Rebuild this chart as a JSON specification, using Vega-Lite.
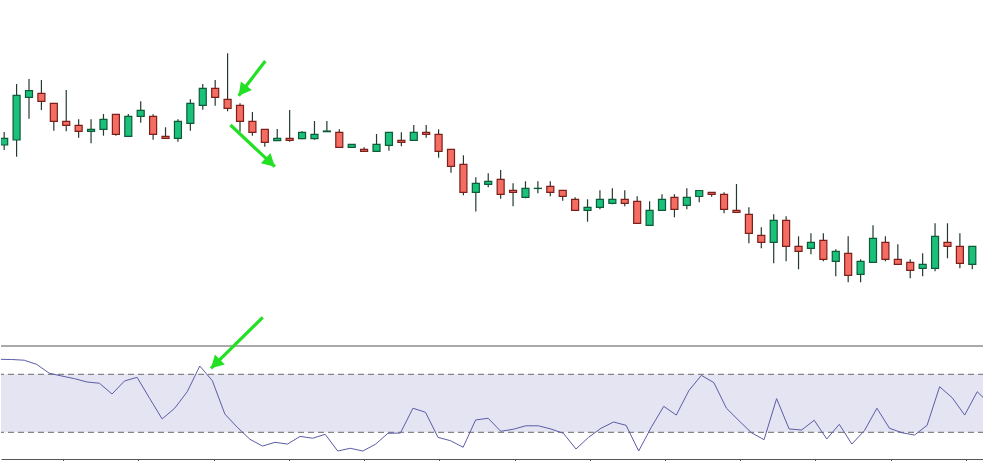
{
  "$schema": "https://vega.github.io/schema/vega-lite/v6.json",
  "padding": 0,
  "spacing": 0,
  "bounds": "flush",
  "background": "white",
  "config": {"view": {"stroke": null}},
  "datasets": {
    "candles": [
      {"i":0,"o":1.12050,"h":1.12180,"l":1.12000,"c":1.12117},
      {"i":1,"o":1.12100,"h":1.12660,"l":1.11933,"c":1.12547},
      {"i":2,"o":1.12527,"h":1.12710,"l":1.12313,"c":1.12593},
      {"i":3,"o":1.12567,"h":1.12700,"l":1.12400,"c":1.12487},
      {"i":4,"o":1.12467,"h":1.12467,"l":1.12193,"c":1.12287},
      {"i":5,"o":1.12287,"h":1.12600,"l":1.12187,"c":1.12247},
      {"i":6,"o":1.12247,"h":1.12307,"l":1.12123,"c":1.12187},
      {"i":7,"o":1.12187,"h":1.12307,"l":1.12067,"c":1.12207},
      {"i":8,"o":1.12207,"h":1.12360,"l":1.12143,"c":1.12307},
      {"i":9,"o":1.12357,"h":1.12357,"l":1.12143,"c":1.12157},
      {"i":10,"o":1.12137,"h":1.12360,"l":1.12137,"c":1.12337},
      {"i":11,"o":1.12337,"h":1.12487,"l":1.12273,"c":1.12397},
      {"i":12,"o":1.12337,"h":1.12357,"l":1.12103,"c":1.12157},
      {"i":13,"o":1.12137,"h":1.12227,"l":1.12117,"c":1.12117},
      {"i":14,"o":1.12117,"h":1.12307,"l":1.12083,"c":1.12287},
      {"i":15,"o":1.12267,"h":1.12507,"l":1.12193,"c":1.12467},
      {"i":16,"o":1.12447,"h":1.12660,"l":1.12403,"c":1.12617},
      {"i":17,"o":1.12617,"h":1.12700,"l":1.12443,"c":1.12527},
      {"i":18,"o":1.12507,"h":1.12967,"l":1.12387,"c":1.12417},
      {"i":19,"o":1.12447,"h":1.12467,"l":1.12183,"c":1.12287},
      {"i":20,"o":1.12287,"h":1.12380,"l":1.12143,"c":1.12177},
      {"i":21,"o":1.12207,"h":1.12207,"l":1.12033,"c":1.12077},
      {"i":22,"o":1.12093,"h":1.12210,"l":1.12093,"c":1.12117},
      {"i":23,"o":1.12117,"h":1.12400,"l":1.12083,"c":1.12097},
      {"i":24,"o":1.12113,"h":1.12187,"l":1.12107,"c":1.12177},
      {"i":25,"o":1.12113,"h":1.12290,"l":1.12103,"c":1.12157},
      {"i":26,"o":1.12183,"h":1.12290,"l":1.12183,"c":1.12190},
      {"i":27,"o":1.12177,"h":1.12207,"l":1.12027,"c":1.12027},
      {"i":28,"o":1.12027,"h":1.12057,"l":1.12027,"c":1.12057},
      {"i":29,"o":1.12007,"h":1.12027,"l":1.11987,"c":1.11987},
      {"i":30,"o":1.11987,"h":1.12160,"l":1.11987,"c":1.12057},
      {"i":31,"o":1.12047,"h":1.12177,"l":1.11993,"c":1.12177},
      {"i":32,"o":1.12097,"h":1.12177,"l":1.12037,"c":1.12077},
      {"i":33,"o":1.12097,"h":1.12250,"l":1.12097,"c":1.12177},
      {"i":34,"o":1.12177,"h":1.12250,"l":1.12123,"c":1.12157},
      {"i":35,"o":1.12157,"h":1.12207,"l":1.11923,"c":1.11987},
      {"i":36,"o":1.12007,"h":1.12007,"l":1.11773,"c":1.11837},
      {"i":37,"o":1.11857,"h":1.11947,"l":1.11547,"c":1.11577},
      {"i":38,"o":1.11577,"h":1.11727,"l":1.11385,"c":1.11667},
      {"i":39,"o":1.11657,"h":1.11767,"l":1.11627,"c":1.11687},
      {"i":40,"o":1.11707,"h":1.11800,"l":1.11513,"c":1.11557},
      {"i":41,"o":1.11597,"h":1.11667,"l":1.11437,"c":1.11577},
      {"i":42,"o":1.11527,"h":1.11687,"l":1.11517,"c":1.11617},
      {"i":43,"o":1.11615,"h":1.11687,"l":1.11567,"c":1.11617},
      {"i":44,"o":1.11637,"h":1.11687,"l":1.11537,"c":1.11577},
      {"i":45,"o":1.11597,"h":1.11597,"l":1.11493,"c":1.11537},
      {"i":46,"o":1.11507,"h":1.11527,"l":1.11397,"c":1.11397},
      {"i":47,"o":1.11397,"h":1.11507,"l":1.11283,"c":1.11427},
      {"i":48,"o":1.11427,"h":1.11597,"l":1.11407,"c":1.11507},
      {"i":49,"o":1.11467,"h":1.11617,"l":1.11457,"c":1.11507},
      {"i":50,"o":1.11507,"h":1.11597,"l":1.11437,"c":1.11467},
      {"i":51,"o":1.11487,"h":1.11537,"l":1.11267,"c":1.11267},
      {"i":52,"o":1.11247,"h":1.11487,"l":1.11247,"c":1.11397},
      {"i":53,"o":1.11397,"h":1.11557,"l":1.11397,"c":1.11507},
      {"i":54,"o":1.11527,"h":1.11557,"l":1.11327,"c":1.11407},
      {"i":55,"o":1.11447,"h":1.11617,"l":1.11407,"c":1.11527},
      {"i":56,"o":1.11535,"h":1.11595,"l":1.11477,"c":1.11595},
      {"i":57,"o":1.11577,"h":1.11577,"l":1.11533,"c":1.11557},
      {"i":58,"o":1.11557,"h":1.11577,"l":1.11367,"c":1.11407},
      {"i":59,"o":1.11397,"h":1.11660,"l":1.11377,"c":1.11377},
      {"i":60,"o":1.11357,"h":1.11427,"l":1.11067,"c":1.11167},
      {"i":61,"o":1.11147,"h":1.11227,"l":1.11017,"c":1.11077},
      {"i":62,"o":1.11077,"h":1.11357,"l":1.10867,"c":1.11297},
      {"i":63,"o":1.11297,"h":1.11337,"l":1.10887,"c":1.11037},
      {"i":64,"o":1.11037,"h":1.11137,"l":1.10807,"c":1.10987},
      {"i":65,"o":1.11017,"h":1.11167,"l":1.10957,"c":1.11077},
      {"i":66,"o":1.11097,"h":1.11167,"l":1.10887,"c":1.10907},
      {"i":67,"o":1.10887,"h":1.11007,"l":1.10737,"c":1.10987},
      {"i":68,"o":1.10967,"h":1.11137,"l":1.10677,"c":1.10747},
      {"i":69,"o":1.10757,"h":1.10907,"l":1.10677,"c":1.10887},
      {"i":70,"o":1.10877,"h":1.11247,"l":1.10877,"c":1.11117},
      {"i":71,"o":1.11077,"h":1.11137,"l":1.10887,"c":1.10907},
      {"i":72,"o":1.10907,"h":1.11057,"l":1.10857,"c":1.10857},
      {"i":73,"o":1.10877,"h":1.10907,"l":1.10717,"c":1.10797},
      {"i":74,"o":1.10817,"h":1.10967,"l":1.10737,"c":1.10857},
      {"i":75,"o":1.10817,"h":1.11267,"l":1.10787,"c":1.11137},
      {"i":76,"o":1.11077,"h":1.11267,"l":1.10917,"c":1.11037},
      {"i":77,"o":1.11037,"h":1.11167,"l":1.10817,"c":1.10867},
      {"i":78,"o":1.10857,"h":1.11037,"l":1.10807,"c":1.11037}
    ],
    "rsi": [
      {"i":0,"v":80.3},{"i":1,"v":80.2},{"i":2,"v":79.7},{"i":3,"v":76.8},{"i":4,"v":70.7},
      {"i":5,"v":68.8},{"i":6,"v":67.0},{"i":7,"v":64.7},{"i":8,"v":63.8},{"i":9,"v":56.4},
      {"i":10,"v":65.4},{"i":11,"v":67.9},{"i":12,"v":53.4},{"i":13,"v":39.2},{"i":14,"v":46.6},
      {"i":15,"v":58.0},{"i":16,"v":75.7},{"i":17,"v":65.6},{"i":18,"v":42.6},{"i":19,"v":33.4},
      {"i":20,"v":25.2},{"i":21,"v":20.5},{"i":22,"v":23.1},{"i":23,"v":21.9},{"i":24,"v":27.2},
      {"i":25,"v":25.9},{"i":26,"v":28.6},{"i":27,"v":17.1},{"i":28,"v":19.0},{"i":29,"v":17.1},
      {"i":30,"v":21.7},{"i":31,"v":29.3},{"i":32,"v":29.5},{"i":33,"v":46.6},{"i":34,"v":43.8},
      {"i":35,"v":26.5},{"i":36,"v":24.2},{"i":37,"v":19.7},{"i":38,"v":38.5},{"i":39,"v":39.7},
      {"i":40,"v":30.7},{"i":41,"v":32.1},{"i":42,"v":34.5},{"i":43,"v":34.5},{"i":44,"v":32.3},
      {"i":45,"v":29.3},{"i":46,"v":18.5},{"i":47,"v":26.5},{"i":48,"v":32.8},{"i":49,"v":37.1},
      {"i":50,"v":34.8},{"i":51,"v":17.1},{"i":52,"v":33.4},{"i":53,"v":47.9},{"i":54,"v":41.9},
      {"i":55,"v":58.7},{"i":56,"v":69.3},{"i":57,"v":64.2},{"i":58,"v":46.6},{"i":59,"v":38.0},
      {"i":60,"v":29.7},{"i":61,"v":24.9},{"i":62,"v":53.2},{"i":63,"v":32.3},{"i":64,"v":31.6},
      {"i":65,"v":38.3},{"i":66,"v":25.4},{"i":67,"v":35.5},{"i":68,"v":21.9},{"i":69,"v":31.1},
      {"i":70,"v":46.6},{"i":71,"v":32.8},{"i":72,"v":29.7},{"i":73,"v":28.1},{"i":74,"v":34.8},
      {"i":75,"v":61.4},{"i":76,"v":53.9},{"i":77,"v":41.9},{"i":78,"v":58.0},{"i":79,"v":49.5}
    ]
  },
  "vconcat": [
    {
      "width": 983,
      "height": 346,
      "layer": [
        {
          "data": {"name": "candles"},
          "mark": {"type": "rule", "clip": true, "color": "#243a2f", "strokeWidth": 1.2},
          "encoding": {
            "x": {"field": "i", "type": "quantitative", "scale": {"domain": [0.147, 78.54], "nice": false, "zero": false}, "axis": null},
            "y": {"field": "l", "type": "quantitative", "scale": {"domain": [1.1004, 1.135], "nice": false, "zero": false}, "axis": null},
            "y2": {"field": "h"}
          }
        },
        {
          "data": {"name": "candles"},
          "mark": {"type": "bar", "clip": true, "width": 7, "strokeWidth": 1.2, "opacity": 1},
          "encoding": {
            "x": {"field": "i", "type": "quantitative", "scale": {"domain": [0.147, 78.54], "nice": false, "zero": false}, "axis": null},
            "y": {"field": "o", "type": "quantitative", "scale": {"domain": [1.1004, 1.135], "nice": false, "zero": false}, "axis": null},
            "y2": {"field": "c"},
            "fill": {"condition": {"test": "datum.c >= datum.o", "value": "#19c17b"}, "value": "#f56c62"},
            "stroke": {"condition": {"test": "datum.c >= datum.o", "value": "#0f5a37"}, "value": "#7a1f19"}
          }
        },
        {
          "data": {"values": [{"ax": 21.04, "ay": 1.1289, "bx": 18.89, "by": 1.12543}, {"ax": 18.23, "ay": 1.1225, "bx": 21.81, "by": 1.11833}]},
          "mark": {"type": "rule", "color": "#22e024", "strokeWidth": 3.2, "strokeCap": "butt"},
          "encoding": {
            "x": {"field": "ax", "type": "quantitative", "scale": {"domain": [0.147, 78.54], "nice": false, "zero": false}, "axis": null},
            "x2": {"field": "bx"},
            "y": {"field": "ay", "type": "quantitative", "scale": {"domain": [1.1004, 1.135], "nice": false, "zero": false}, "axis": null},
            "y2": {"field": "by"}
          }
        },
        {
          "data": {"values": [{"bx": 18.89, "by": 1.12543}]},
          "mark": {"type": "point", "filled": true, "opacity": 1, "color": "#22e024", "strokeWidth": 0, "size": 196, "shape": "M0,0L-1,1.8L1,1.8Z", "angle": 218},
          "encoding": {
            "x": {"field": "bx", "type": "quantitative", "scale": {"domain": [0.147, 78.54], "nice": false, "zero": false}, "axis": null},
            "y": {"field": "by", "type": "quantitative", "scale": {"domain": [1.1004, 1.135], "nice": false, "zero": false}, "axis": null}
          }
        },
        {
          "data": {"values": [{"bx": 21.81, "by": 1.11833}]},
          "mark": {"type": "point", "filled": true, "opacity": 1, "color": "#22e024", "strokeWidth": 0, "size": 196, "shape": "M0,0L-1,1.8L1,1.8Z", "angle": 133},
          "encoding": {
            "x": {"field": "bx", "type": "quantitative", "scale": {"domain": [0.147, 78.54], "nice": false, "zero": false}, "axis": null},
            "y": {"field": "by", "type": "quantitative", "scale": {"domain": [1.1004, 1.135], "nice": false, "zero": false}, "axis": null}
          }
        }
      ]
    },
    {
      "width": 983,
      "height": 113,
      "layer": [
        {
          "data": {"values": [{"top": 70, "bottom": 30}]},
          "mark": {"type": "rect", "color": "#e4e4f2", "opacity": 1},
          "encoding": {
            "y": {"field": "top", "type": "quantitative", "scale": {"domain": [11.6, 89.5], "nice": false, "zero": false}, "axis": null},
            "y2": {"field": "bottom"}
          }
        },
        {
          "data": {"values": [{"lvl": 70}, {"lvl": 30}]},
          "mark": {"type": "rule", "color": "#6a6a6a", "strokeWidth": 1, "strokeDash": [6, 4]},
          "encoding": {
            "y": {"field": "lvl", "type": "quantitative", "scale": {"domain": [11.6, 89.5], "nice": false, "zero": false}, "axis": null}
          }
        },
        {
          "data": {"values": [{"lvl": 89.5}]},
          "mark": {"type": "rule", "color": "#555555", "strokeWidth": 1},
          "encoding": {
            "y": {"field": "lvl", "type": "quantitative", "scale": {"domain": [11.6, 89.5], "nice": false, "zero": false}, "axis": null}
          }
        },
        {
          "data": {"name": "rsi"},
          "mark": {"type": "line", "clip": true, "color": "#5c5ca8", "strokeWidth": 1},
          "encoding": {
            "x": {"field": "i", "type": "quantitative", "scale": {"domain": [0.147, 78.54], "nice": false, "zero": false},
                  "axis": {"values": [5.1, 11.1, 17.1, 23.1, 29.1, 35.1, 41.1, 47.1, 53.1, 59.1, 65.1, 71.1, 77.1], "labels": false, "grid": false, "title": null, "domainColor": "#555555", "tickColor": "#555555", "tickSize": 5, "orient": "bottom"}},
            "y": {"field": "v", "type": "quantitative", "scale": {"domain": [11.6, 89.5], "nice": false, "zero": false}, "axis": null}
          }
        },
        {
          "data": {"values": [{"ax": 21.02, "ay": 109.3, "bx": 16.89, "by": 74.1}]},
          "mark": {"type": "rule", "color": "#22e024", "strokeWidth": 3.2, "strokeCap": "butt"},
          "encoding": {
            "x": {"field": "ax", "type": "quantitative", "scale": {"domain": [0.147, 78.54], "nice": false, "zero": false},
                  "axis": {"values": [5.1, 11.1, 17.1, 23.1, 29.1, 35.1, 41.1, 47.1, 53.1, 59.1, 65.1, 71.1, 77.1], "labels": false, "grid": false, "title": null, "domainColor": "#555555", "tickColor": "#555555", "tickSize": 5, "orient": "bottom"}},
            "x2": {"field": "bx"},
            "y": {"field": "ay", "type": "quantitative", "scale": {"domain": [11.6, 89.5], "nice": false, "zero": false}, "axis": null},
            "y2": {"field": "by"}
          }
        },
        {
          "data": {"values": [{"bx": 16.89, "by": 74.1}]},
          "mark": {"type": "point", "filled": true, "opacity": 1, "color": "#22e024", "strokeWidth": 0, "size": 196, "shape": "M0,0L-1,1.8L1,1.8Z", "angle": 225},
          "encoding": {
            "x": {"field": "bx", "type": "quantitative", "scale": {"domain": [0.147, 78.54], "nice": false, "zero": false},
                  "axis": {"values": [5.1, 11.1, 17.1, 23.1, 29.1, 35.1, 41.1, 47.1, 53.1, 59.1, 65.1, 71.1, 77.1], "labels": false, "grid": false, "title": null, "domainColor": "#555555", "tickColor": "#555555", "tickSize": 5, "orient": "bottom"}},
            "y": {"field": "by", "type": "quantitative", "scale": {"domain": [11.6, 89.5], "nice": false, "zero": false}, "axis": null}
          }
        }
      ]
    }
  ]
}
